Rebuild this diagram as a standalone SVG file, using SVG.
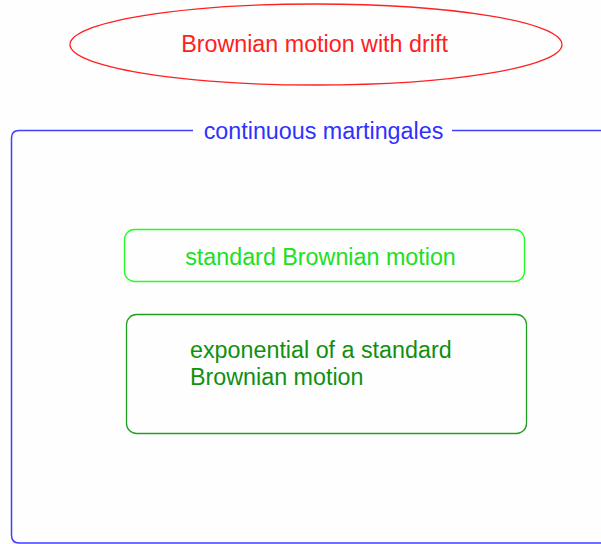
<svg xmlns="http://www.w3.org/2000/svg" width="601" height="544" viewBox="0 0 601 544">
<style>
text{font-family:"Liberation Sans",Arial,sans-serif;font-size:23.3px}
</style>
<rect width="601" height="544" fill="#fefefe"/>
<g id="container">
<path d="M193 130.5 H19 Q11.5 130.5 11.5 138 V535 Q11.5 543 19 543 H610" fill="none" stroke="#4040ff" stroke-width="1.5"/>
<path d="M452 130.5 H610 V543" fill="none" stroke="#4040ff" stroke-width="1.5"/>
<text x="323.5" y="139" text-anchor="middle" fill="#3030ff">continuous martingales</text>
</g>
<g id="drift">
<ellipse cx="316" cy="44.5" rx="246" ry="40.5" fill="none" stroke="#ff2020" stroke-width="1.3"/>
<text x="314.5" y="52" text-anchor="middle" fill="#ff2020">Brownian motion with drift</text>
</g>
<g id="sbm">
<rect x="124.5" y="229.5" width="400" height="52" rx="10" fill="none" stroke="#20ff20" stroke-width="1.3"/>
<text x="320.5" y="265" text-anchor="middle" fill="#20e020">standard Brownian motion</text>
</g>
<g id="exp">
<rect x="126.5" y="314.5" width="400" height="119" rx="10" fill="none" stroke="#20a020" stroke-width="1.3"/>
<text x="190" y="358" fill="#109010">exponential of a standard</text>
<text x="190" y="385" fill="#109010">Brownian motion</text>
</g>
<g id="connectors"/>
</svg>
